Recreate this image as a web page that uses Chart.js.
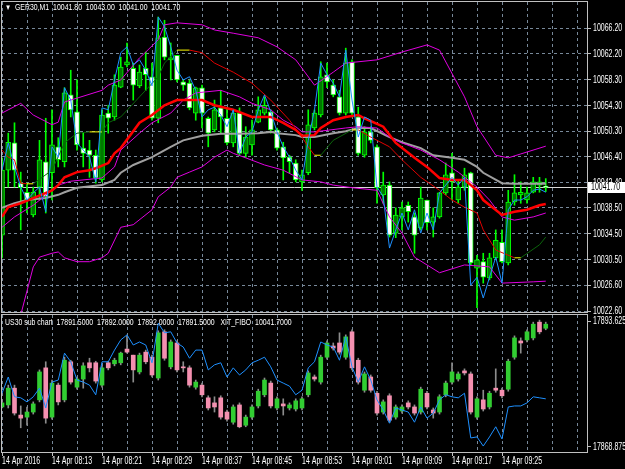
<!DOCTYPE html>
<html>
<head>
<meta charset="utf-8">
<script src="https://cdn.jsdelivr.net/npm/chart.js@4.4.1/dist/chart.umd.min.js"></script>
<style>
  html, body { margin: 0; padding: 0; background: #000; }
  #wrap { position: relative; width: 625px; height: 469px; background: #000; overflow: hidden; }
  canvas { position: absolute; left: 0; }
  #mainChart { top: 0; }
  #subChart { top: 313px; }
  .caption { position: absolute; color: #fff; font: 9px "Liberation Sans", Arial, sans-serif; line-height: 11px;
    white-space: pre; transform: scaleX(0.77); transform-origin: left top; }
  .tri { font-size: 8px; }
</style>
</head>
<body>
<div id="wrap">
  <canvas id="mainChart" width="625" height="320"></canvas>
  <canvas id="subChart" width="625" height="156"></canvas>
  <div class="caption" style="left:5px; top:2px;"><span class="tri">▼</span>  GER30,M1  10041.80  10043.00  10041.00  10041.70</div>
  <div class="caption" style="left:5px; top:317px;">US30 sub chart  17891.5000  17892.0000  17892.0000  17891.5000   XIT_FIBO  10041.7000</div>
</div>
<script>
const FONT = '"Liberation Sans", Arial, sans-serif';
const TEXT_SIZE = 10;
const TEXT_SCALE = 0.7;

// x axis: one label every 8 one-minute bars
const xTickLabels = ['14 Apr 2016', '14 Apr 08:13', '14 Apr 08:21', '14 Apr 08:29', '14 Apr 08:37',
  '14 Apr 08:45', '14 Apr 08:53', '14 Apr 09:01', '14 Apr 09:09', '14 Apr 09:17', '14 Apr 09:25'];

// GER30 M1 candles
const gerOpen = [10034.3,10044.3,10048.5,10042.3,10040.9,10037.4,10041.7,10045.6,10043.9,10047.9,
  10045.6,10055.9,10053.3,10047.7,10047.4,10046.6,10042.8,10053.1,10052.5,10057.1,
  10060.5,10060.0,10057.3,10060.0,10058.7,10052.3,10064.8,10061.3,10062.0,10057.9,
  10057.7,10053.1,10057.0,10052.3,10050.5,10053.9,10052.3,10048.5,10053.1,10046.9,
  10048.2,10051.7,10053.1,10053.3,10050.5,10047.9,10046.3,10045.4,10042.5,10043.9,
  10050.8,10052.8,10059.0,10057.4,10055.6,10053.1,10061.0,10052.5,10046.6,10050.2,
  10047.9,10040.5,10042.0,10034.6,10037.1,10038.9,10037.1,10035.4,10039.7,10036.3,
  10037.1,10040.8,10043.9,10039.7,10041.7,10043.9,10029.2,10030.2,10027.7,10030.8,
  10033.2,10030.0,10039.4,10040.5,10039.7,10040.9,10042.0,10041.8];
const gerHigh = [10046.2,10050.0,10051.6,10044.0,10042.3,10041.7,10048.9,10052.3,10053.6,10049.3,
  10057.0,10059.7,10058.2,10050.0,10048.9,10047.4,10053.6,10054.3,10059.0,10061.7,
  10063.9,10060.8,10060.5,10062.5,10060.8,10067.9,10067.4,10063.9,10062.0,10058.2,
  10058.2,10057.1,10057.4,10052.5,10055.1,10056.6,10054.0,10053.6,10053.9,10051.0,
  10052.0,10055.6,10055.6,10053.6,10050.8,10048.6,10046.6,10045.9,10044.3,10053.6,
  10053.6,10061.0,10060.8,10058.2,10056.6,10063.1,10061.3,10054.0,10051.0,10051.0,
  10048.2,10044.0,10042.5,10038.5,10039.4,10039.4,10037.7,10041.7,10039.7,10038.5,
  10040.9,10045.4,10046.9,10042.8,10044.6,10044.0,10031.2,10031.5,10031.5,10035.1,
  10035.1,10041.2,10043.6,10042.5,10041.7,10043.2,10043.2,10043.0];
const gerLow = [10030.8,10041.7,10041.7,10035.1,10037.7,10037.1,10039.7,10037.7,10039.7,10044.8,
  10044.8,10052.5,10047.4,10044.8,10043.2,10042.3,10042.5,10050.0,10052.0,10057.0,
  10060.2,10055.1,10057.0,10056.6,10052.0,10051.6,10061.3,10058.2,10057.9,10056.6,
  10053.6,10052.0,10050.8,10047.9,10050.2,10050.0,10048.2,10047.9,10046.6,10046.3,
  10046.6,10051.6,10052.8,10050.0,10047.4,10042.8,10043.9,10042.5,10041.2,10043.6,
  10050.5,10052.5,10057.0,10055.6,10052.8,10052.8,10052.5,10046.6,10046.3,10048.5,
  10039.2,10039.2,10034.0,10033.9,10035.1,10036.3,10031.5,10035.1,10035.1,10034.0,
  10036.9,10040.5,10039.7,10039.2,10041.2,10029.7,10023.1,10026.9,10027.4,10030.5,
  10030.0,10029.7,10038.9,10039.2,10039.2,10040.8,10040.9,10041.0];
const gerClose = [10044.3,10048.6,10044.3,10041.6,10039.7,10040.9,10045.9,10040.2,10048.2,10045.9,
  10056.2,10053.6,10048.2,10046.9,10046.6,10043.1,10052.8,10052.3,10057.4,10060.2,
  10061.0,10057.4,10059.4,10059.0,10052.3,10064.7,10061.7,10061.6,10058.2,10057.4,
  10053.9,10057.0,10053.1,10050.0,10053.6,10052.5,10048.5,10053.1,10046.9,10049.4,
  10050.5,10053.6,10054.3,10050.5,10047.7,10046.2,10045.6,10042.8,10043.6,10051.3,
  10053.1,10058.7,10057.9,10055.9,10053.1,10060.8,10053.1,10046.9,10050.2,10048.9,
  10041.6,10042.0,10034.3,10037.4,10038.5,10037.9,10034.3,10040.0,10036.2,10037.1,
  10040.8,10043.6,10042.5,10041.7,10043.6,10030.0,10030.5,10027.8,10030.8,10033.5,
  10030.2,10039.4,10040.8,10040.9,10040.8,10042.5,10042.5,10041.7];

// blue line drawn on the GER30 window
const gerLine = [10044.3,10048.5,10044.8,10041.7,10039.7,10040.8,10041.7,10037.9,10047.9,10046.3,
  10057.0,10055.1,10048.5,10047.4,10046.3,10042.5,10053.9,10053.6,10058.2,10062.4,
  10063.3,10060.5,10061.3,10059.7,10057.3,10067.9,10066.4,10063.3,10059.7,10058.2,
  10058.7,10056.6,10052.5,10053.6,10054.0,10052.8,10051.0,10053.6,10046.9,10049.4,
  10050.2,10053.6,10055.9,10053.3,10050.2,10047.9,10046.3,10044.3,10042.8,10048.9,
  10053.6,10060.8,10059.0,10057.7,10055.6,10062.8,10055.1,10049.4,10052.5,10052.0,
  10041.7,10040.2,10032.3,10035.1,10037.7,10035.1,10038.2,10034.6,10037.7,10035.1,
  10040.8,10042.0,10043.2,10042.0,10043.2,10026.6,10027.8,10024.6,10027.8,10030.9,
  10026.9,10038.2,10039.7,10039.7,10040.2,10041.2,10041.4,10040.9];

// Bollinger bands (bar index, value)
const upperBandBars = [0,3,5,8,9,10,12,16,17,19,22,23,25,26,28,32,34,37,41,44,47,48,50,53,55,60,64,68,70,74,76,79,81,83,87];
const upperBand = [10053.1,10054.6,10052.8,10051.3,10051.7,10054.8,10055.4,10056.6,10057.4,10058.2,
  10061.6,10062.5,10064.4,10066.7,10067.0,10066.7,10065.9,10065.4,10064.7,10063.3,
  10061.3,10060.0,10057.4,10059.4,10060.8,10061.3,10062.5,10063.6,10062.8,10055.6,
  10051.0,10046.6,10046.2,10046.8,10048.0];
const midBandBars = [0,2,5,9,11,16,18,19,22,24,27,29,31,35,38,40,43,45,47,48,50,55,57,60,62,64,67,70,73,76,78,80,82,85,87];
const midBand = [10035.5,10037.1,10038.9,10042.0,10042.6,10043.1,10044.8,10047.4,10050.0,10051.6,
  10053.1,10055.1,10056.2,10056.6,10055.6,10054.6,10053.6,10052.0,10051.0,10050.2,
  10050.2,10050.8,10051.0,10050.8,10049.4,10048.5,10047.4,10045.9,10044.0,10041.7,
  10039.7,10037.1,10036.6,10037.1,10037.7];
const lowerBandBars = [3,5,6,8,9,10,12,14,16,17,19,21,24,25,27,28,30,32,34,36,37,39,42,45,48,51,53,56,60,62,64,66,70,74,78,80,85,87];
const lowerBand = [10022.0,10029.4,10030.9,10031.5,10031.7,10030.8,10030.2,10030.2,10030.8,10031.5,
  10035.5,10035.9,10038.2,10040.2,10041.7,10043.2,10044.0,10044.8,10046.3,10047.4,
  10046.9,10046.2,10045.1,10044.3,10042.8,10042.5,10042.0,10041.6,10041.2,10037.1,
  10034.6,10030.9,10028.5,10029.7,10029.4,10026.9,10027.1,10027.2];

// moving averages
const fastMaBars = [0,1,3,5,8,9,10,12,14,15,17,18,19,22,24,26,28,32,34,37,40,43,45,47,48,50,51,53,55,57,58,61,63,66,68,70,72,74,76,77,80,82,84,86,87];
const fastMa = [10037.1,10038.6,10039.2,10040.0,10041.2,10042.0,10043.2,10044.0,10044.3,10044.6,
  10045.4,10046.9,10047.7,10051.6,10052.8,10054.3,10055.1,10055.1,10054.3,10053.6,
  10052.5,10052.5,10051.6,10050.5,10049.6,10049.7,10050.8,10052.0,10052.5,10052.8,
  10052.3,10051.0,10048.5,10046.2,10044.8,10043.1,10042.8,10042.8,10041.2,10039.7,
  10037.4,10037.9,10038.2,10038.9,10039.1];
const slowMaBars = [0,2,4,7,9,10,12,16,18,19,21,24,27,29,32,35,38,41,43,44,47,48,50,53,55,57,59,62,64,67,69,72,74,76,77,80,82,87];
const slowMa = [10038.5,10039.2,10039.7,10040.0,10040.5,10040.9,10041.6,10042.0,10042.8,10043.9,
  10045.1,10046.3,10047.9,10048.9,10049.6,10049.9,10049.9,10050.0,10050.2,10050.0,
  10049.7,10049.4,10049.4,10050.0,10050.3,10050.8,10050.8,10049.4,10048.6,10047.7,
  10046.6,10046.2,10045.9,10044.8,10043.9,10042.3,10042.2,10042.2];
const trendMaBars = [0,1,2,3,4,5,8,10,12,14,16,17,19,22,25,26,28,30,32,34,37,40,43,46,48,49,50,51,53,56,57,59,62,64,67,70,72,74,76,77,79,82,83,86,87];
const trendMa = [10047.4,10046.3,10045.9,10042.3,10042.2,10042.2,10044.3,10048.5,10050.0,10050.2,
  10050.2,10051.6,10052.5,10055.6,10058.7,10060.8,10062.8,10062.8,10062.4,10060.8,
  10059.4,10057.7,10055.1,10052.0,10049.4,10047.9,10046.6,10046.6,10048.9,10050.5,
  10050.5,10049.4,10047.9,10045.9,10043.2,10041.2,10039.7,10038.6,10037.7,10035.1,
  10032.0,10030.8,10030.8,10032.8,10034.0];

const mainTicks = [10066.2,10062.2,10058.3,10054.3,10050.3,10046.4,10042.4,10038.5,10034.5,10030.5,10026.6,10022.6];
const lastPrice = 10041.70;

// US30 sub chart candles
const usOpen = [17876.7,17877.1,17880.4,17875.1,17874.7,17875.7,17878.1,17884.4,17874.7,17881.0,
  17878.1,17885.6,17880.6,17882.2,17885.4,17885.4,17881.0,17885.4,17885.2,17885.4,
  17888.1,17886.9,17883.6,17887.5,17886.5,17882.4,17891.5,17884.6,17889.3,17884.6,
  17884.4,17880.6,17881.0,17878.5,17877.5,17878.5,17875.7,17873.7,17877.1,17873.1,
  17874.7,17876.9,17879.1,17881.4,17876.5,17877.3,17876.5,17876.3,17876.5,17879.1,
  17882.6,17881.6,17886.5,17888.7,17889.3,17886.5,17891.5,17885.9,17880.0,17882.6,
  17879.4,17875.7,17878.9,17874.7,17875.9,17877.5,17876.7,17875.7,17879.4,17876.1,
  17875.7,17879.1,17881.6,17882.2,17883.8,17883.2,17874.7,17878.1,17876.7,17880.4,
  17880.0,17880.2,17886.5,17889.7,17889.9,17890.3,17893.4,17892.2];
const usHigh = [17878.1,17881.0,17881.0,17876.9,17876.7,17877.7,17884.0,17885.6,17882.0,17881.4,
  17886.5,17885.9,17882.6,17885.4,17886.3,17885.7,17884.8,17885.7,17886.3,17887.5,
  17890.7,17886.9,17887.3,17887.9,17886.9,17891.7,17891.9,17889.9,17889.7,17885.6,
  17884.8,17882.0,17881.4,17878.9,17878.7,17878.9,17876.1,17877.1,17877.5,17875.1,
  17877.1,17880.2,17882.4,17881.8,17878.7,17878.3,17877.5,17878.3,17878.7,17883.8,
  17883.0,17886.9,17889.7,17889.3,17891.3,17890.9,17891.9,17886.3,17883.6,17883.0,
  17879.8,17878.1,17879.3,17877.1,17877.1,17877.9,17877.1,17880.6,17879.8,17876.5,
  17879.1,17881.8,17885.4,17883.6,17884.2,17883.6,17878.7,17880.0,17879.8,17884.2,
  17880.4,17886.1,17890.7,17890.3,17891.9,17893.4,17893.8,17893.4];
const usLow = [17876.5,17876.5,17875.1,17872.6,17873.1,17875.3,17877.7,17873.5,17874.3,17877.1,
  17877.7,17881.2,17880.2,17880.4,17883.6,17881.4,17880.6,17884.0,17884.8,17885.0,
  17887.3,17881.6,17883.2,17885.2,17882.6,17882.0,17885.9,17884.2,17883.6,17883.6,
  17880.6,17880.2,17878.7,17876.1,17875.7,17874.3,17873.9,17873.3,17872.6,17872.8,
  17874.3,17876.5,17878.7,17876.5,17876.1,17875.1,17876.1,17875.9,17876.1,17878.7,
  17881.8,17881.2,17886.1,17887.9,17887.1,17886.1,17884.0,17881.2,17879.6,17879.6,
  17875.1,17875.3,17873.7,17874.3,17875.5,17876.3,17875.1,17875.3,17876.3,17874.5,
  17875.3,17878.7,17881.2,17881.8,17883.0,17875.3,17874.3,17875.9,17876.3,17879.6,
  17878.5,17879.8,17886.1,17887.3,17889.5,17889.9,17891.1,17891.9];
const usClose = [17877.5,17880.4,17875.5,17874.5,17875.7,17877.3,17883.6,17874.5,17881.4,17877.7,
  17885.9,17881.6,17882.2,17884.8,17884.4,17881.8,17884.4,17884.4,17885.9,17887.3,
  17887.5,17884.0,17886.9,17885.6,17883.0,17891.3,17886.3,17889.5,17884.0,17884.4,
  17881.0,17881.6,17879.1,17876.5,17876.7,17874.7,17874.3,17876.7,17872.8,17874.7,
  17876.7,17879.8,17882.0,17876.9,17878.3,17876.9,17877.1,17877.9,17878.3,17883.4,
  17882.2,17886.5,17889.3,17888.3,17887.5,17890.5,17884.4,17881.6,17883.2,17880.0,
  17875.5,17877.7,17874.1,17876.7,17876.7,17876.7,17875.5,17880.2,17876.7,17875.5,
  17878.7,17881.4,17883.6,17883.2,17883.4,17875.7,17878.3,17876.3,17879.4,17880.0,
  17878.9,17885.7,17890.3,17889.3,17891.5,17893.0,17891.5,17893.0];

// XIT_FIBO line in the sub window
const fiboLine = [17879.4,17882.6,17878.7,17878.5,17877.7,17878.7,17880.4,17876.5,17881.6,17882.0,
  17887.3,17885.6,17882.0,17881.6,17881.0,17879.1,17885.6,17885.6,17887.9,17889.9,
  17890.9,17888.9,17889.5,17888.9,17885.4,17893.2,17891.3,17891.5,17889.3,17888.5,
  17886.3,17887.9,17887.9,17884.0,17885.0,17885.4,17882.6,17884.4,17883.0,17884.0,
  17885.4,17885.9,17886.5,17884.6,17882.0,17881.4,17880.8,17879.1,17880.0,17884.4,
  17885.6,17889.5,17888.9,17888.5,17885.9,17890.5,17884.6,17881.6,17884.6,17882.0,
  17878.1,17876.1,17873.5,17876.5,17876.1,17875.7,17873.7,17876.7,17874.5,17875.5,
  17878.1,17879.1,17878.7,17878.5,17879.4,17870.6,17870.8,17869.0,17870.8,17872.8,
  17870.4,17876.7,17876.9,17876.9,17877.5,17878.7,17878.5,17878.3];
const subTicks = [17893.625, 17868.875];

const GRID = '#778899';
const FRAME = '#c0c0c0';
const X_MIN = 0, X_MAX = 93.6;

function pts(bars, vals) {
  return bars.map((b, i) => ({ x: b, y: vals[i] }));
}
function series(vals) {
  return vals.map((v, i) => ({ x: i, y: v }));
}
function lineSet(data, color, width, order) {
  return { type: 'line', data, borderColor: color, borderWidth: width, pointRadius: 0, tension: 0, order };
}
function gridTicks(scale) {
  const t = [];
  for (let v = 0; v <= X_MAX; v += 4) t.push({ value: v });
  scale.ticks = t;
}
// MT4 axis text is narrow, so squeeze it horizontally
function narrowText(ctx, text, x, y, color) {
  ctx.save();
  ctx.translate(x, y);
  ctx.scale(TEXT_SCALE, 1);
  ctx.fillStyle = color;
  ctx.font = TEXT_SIZE + 'px ' + FONT;
  ctx.textAlign = 'left';
  ctx.textBaseline = 'middle';
  ctx.fillText(text, 0, 0);
  ctx.restore();
}

const framePlugin = {
  id: 'frame',
  beforeDatasetsDraw(chart, args, opts) {
    if (opts.price == null) return;
    const { ctx, chartArea } = chart;
    const y = Math.round(chart.scales.y.getPixelForValue(opts.price)) + 0.5;
    ctx.save();
    ctx.strokeStyle = '#d8d8d8';
    ctx.lineWidth = 1;
    ctx.beginPath();
    ctx.moveTo(chartArea.left, y);
    ctx.lineTo(chartArea.right, y);
    ctx.stroke();
    ctx.restore();
  },
  afterDraw(chart, args, opts) {
    const { ctx, chartArea, scales } = chart;
    ctx.save();
    ctx.strokeStyle = FRAME;
    ctx.lineWidth = 1;
    ctx.strokeRect(chartArea.left - 0.5, chartArea.top - 0.5,
      chartArea.right - chartArea.left + 1, chartArea.bottom - chartArea.top + 1);
    ctx.restore();

    (opts.yTicks || []).forEach(v => {
      narrowText(ctx, v.toFixed(opts.digits), chartArea.right + 6, scales.y.getPixelForValue(v) + 0.5, '#ffffff');
    });
    if (opts.xLabels) {
      opts.xLabels.forEach((lbl, k) => {
        narrowText(ctx, lbl, scales.x.getPixelForValue(k * 8), chartArea.bottom + 9, '#ffffff');
      });
    }
    if (opts.price != null) {
      const y = Math.round(scales.y.getPixelForValue(opts.price));
      ctx.fillStyle = '#ffffff';
      ctx.fillRect(chartArea.right + 1, y - 5, 37, 11);
      narrowText(ctx, opts.price.toFixed(opts.digits), chartArea.right + 4, y + 0.5, '#000000');
    }
  }
};

const idx = gerOpen.map((_, i) => i);

new Chart(document.getElementById('mainChart'), {
  type: 'bar',
  data: {
    datasets: [
      lineSet(series(gerLine), '#1e90ff', 1, 1),
      lineSet(pts(fastMaBars, fastMa), '#ff0000', 2.5, 2),
      {
        type: 'line', data: pts(trendMaBars, trendMa), borderWidth: 1, pointRadius: 0, tension: 0, order: 3,
        borderColor: '#006400',
        segment: {
          borderColor: c => c.p1.parsed.y > c.p0.parsed.y ? '#0b640b'
            : c.p1.parsed.y < c.p0.parsed.y ? '#e00000' : '#ffff00'
        }
      },
      lineSet(pts(upperBandBars, upperBand), '#e000e0', 1, 4),
      lineSet(pts(midBandBars, midBand), '#e000e0', 1, 4),
      lineSet(pts(lowerBandBars, lowerBand), '#e000e0', 1, 4),
      lineSet(pts(slowMaBars, slowMa), '#a0a0a0', 2, 5),
      {
        data: idx.map(i => ({ x: i, y: [gerOpen[i], gerClose[i]] })),
        backgroundColor: c => gerClose[c.dataIndex] >= gerOpen[c.dataIndex] ? '#007800' : '#ffffff',
        borderColor: '#00ff00', borderWidth: 1, borderSkipped: false,
        barThickness: 5, minBarLength: 1, grouped: false, order: 20
      },
      {
        data: idx.map(i => ({ x: i, y: [gerLow[i], gerHigh[i]] })),
        backgroundColor: '#00ff00', barThickness: 1, grouped: false, order: 21
      }
    ]
  },
  options: {
    responsive: false,
    animation: false,
    devicePixelRatio: 1,
    layout: { padding: { left: 2, top: 2, right: 0, bottom: 8 } },
    plugins: {
      legend: { display: false }, tooltip: { enabled: false },
      frame: { price: lastPrice, yTicks: mainTicks, digits: 2 }
    },
    scales: {
      x: {
        type: 'linear', min: X_MIN, max: X_MAX, offset: false,
        afterBuildTicks: gridTicks,
        afterFit: s => { s.height = 0; s.paddingLeft = 0; s.paddingRight = 0; },
        ticks: { display: false },
        grid: { color: GRID, drawTicks: false, offset: false },
        border: { display: false, dash: [3, 3] }
      },
      y: {
        position: 'right', min: 10022.45, max: 10070.21,
        afterBuildTicks: s => { s.ticks = mainTicks.map(v => ({ value: v })); },
        afterFit: s => { s.width = 38; s.paddingTop = 0; s.paddingBottom = 0; },
        ticks: { display: false },
        grid: { color: GRID, tickLength: 4, tickColor: FRAME, tickBorderDash: [] },
        border: { display: false, dash: [3, 3] }
      }
    }
  },
  plugins: [framePlugin]
});

new Chart(document.getElementById('subChart'), {
  type: 'bar',
  data: {
    datasets: [
      lineSet(series(fiboLine), '#1e90ff', 1, 1),
      {
        data: idx.map(i => ({ x: i, y: [usOpen[i], usClose[i]] })),
        backgroundColor: c => usClose[c.dataIndex] >= usOpen[c.dataIndex] ? '#32cd32' : '#f490b0',
        borderWidth: 0, barThickness: 4, minBarLength: 1, grouped: false, order: 20
      },
      {
        data: idx.map(i => ({ x: i, y: [usLow[i], usHigh[i]] })),
        backgroundColor: '#8c8c8c', barThickness: 1, grouped: false, order: 21
      }
    ]
  },
  options: {
    responsive: false,
    animation: false,
    devicePixelRatio: 1,
    layout: { padding: { left: 2, top: 2, right: 0, bottom: 0 } },
    plugins: {
      legend: { display: false }, tooltip: { enabled: false },
      frame: { yTicks: subTicks, digits: 3, xLabels: xTickLabels }
    },
    scales: {
      x: {
        type: 'linear', min: X_MIN, max: X_MAX, offset: false,
        afterBuildTicks: gridTicks,
        afterFit: s => { s.height = 17; s.paddingLeft = 0; s.paddingRight = 0; },
        ticks: { display: false },
        grid: { color: GRID, offset: false, tickLength: 4, tickBorderDash: [],
          tickColor: c => (c.tick && c.tick.value % 8 === 0 && xTickLabels[c.tick.value / 8]) ? FRAME : 'rgba(0,0,0,0)' },
        border: { display: false, dash: [3, 3] }
      },
      y: {
        position: 'right', min: 17867.83, max: 17894.81,
        afterBuildTicks: s => { s.ticks = subTicks.map(v => ({ value: v })); },
        afterFit: s => { s.width = 38; s.paddingTop = 0; s.paddingBottom = 0; },
        ticks: { display: false },
        grid: { drawOnChartArea: false, tickLength: 4, tickColor: FRAME, tickBorderDash: [] },
        border: { display: false }
      }
    }
  },
  plugins: [framePlugin]
});
</script>
</body>
</html>
